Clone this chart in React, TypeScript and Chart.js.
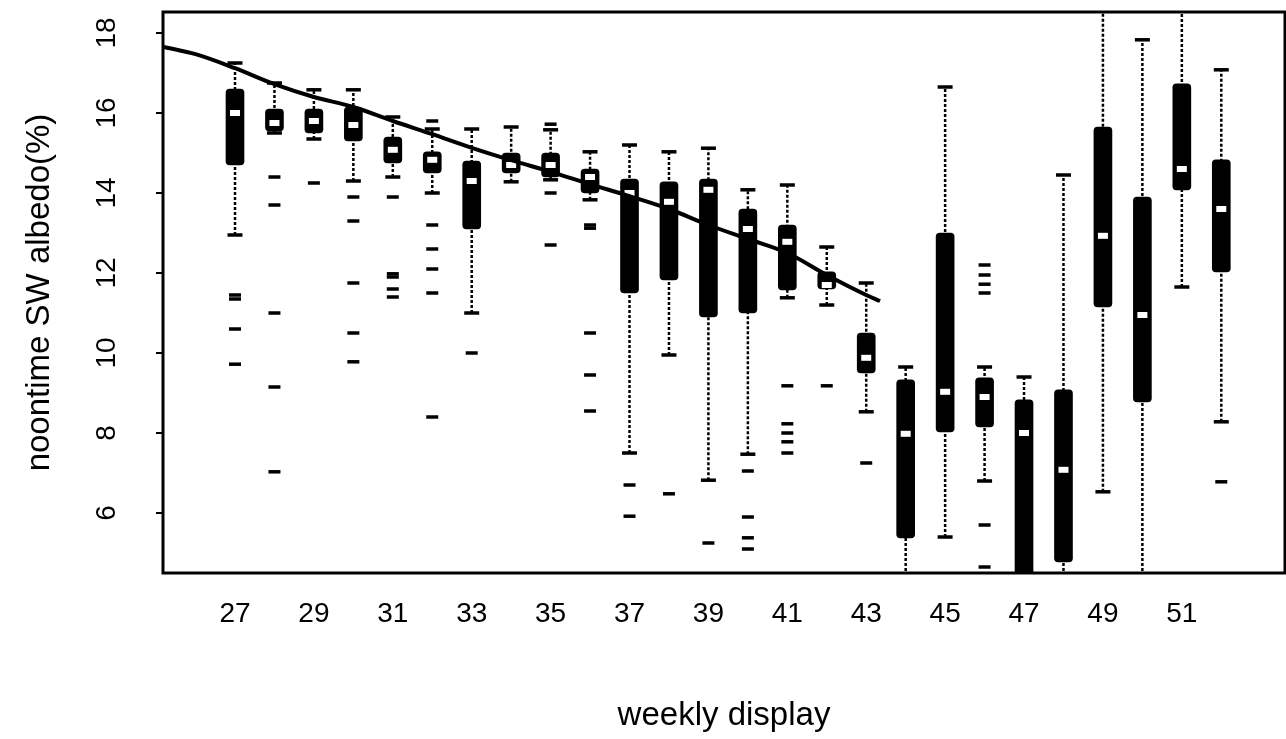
import React, { useEffect, useRef } from "react";
import { Chart, registerables } from "chart.js";

Chart.register(...registerables);

// ---- data ----
const weeks = [27, 28, 29, 30, 31, 32, 33, 34, 35, 36, 37, 38, 39, 40, 41, 42, 43, 44, 45, 46, 47, 48, 49, 50, 51, 52];
const whiskerLow = [12.95, 15.5, 15.35, 14.3, 14.4, 14.0, 11.0, 14.28, 14.33, 13.83, 7.5, 9.95, 6.82, 7.47, 11.38, 11.2, 8.53, 4.3, 5.4, 6.8, 4.2, 4.3, 6.53, 4.3, 11.65, 8.28];
const boxQ1 = [14.7, 15.55, 15.5, 15.3, 14.75, 14.5, 13.1, 14.5, 14.4, 14.0, 11.5, 11.83, 10.9, 11.0, 11.58, 11.6, 9.5, 5.38, 8.03, 8.15, 4.3, 4.78, 11.15, 8.78, 14.08, 12.03];
const boxMedian = [16.0, 15.75, 15.8, 15.7, 15.08, 14.83, 14.3, 14.7, 14.7, 14.4, 14.0, 13.78, 14.08, 13.1, 12.78, 11.7, 9.88, 7.98, 9.03, 8.9, 8.0, 7.08, 12.93, 10.95, 14.6, 13.6];
const boxQ3 = [16.6, 16.1, 16.1, 16.15, 15.4, 15.03, 14.8, 15.0, 15.0, 14.6, 14.35, 14.28, 14.35, 13.6, 13.2, 12.03, 10.5, 9.33, 13.0, 9.38, 8.83, 9.08, 15.65, 13.9, 16.73, 14.83];
const whiskerHigh = [17.25, 16.75, 16.58, 16.58, 15.9, 15.6, 15.6, 15.65, 15.58, 15.03, 15.2, 15.03, 15.12, 14.08, 14.2, 12.65, 11.75, 9.65, 16.65, 9.65, 9.4, 14.45, 19.0, 17.83, 19.0, 17.08];
const outliers = [
  [11.45, 11.35, 10.6, 9.72],
  [14.4, 13.7, 11.0, 9.15, 7.03],
  [14.25],
  [13.9, 13.3, 11.75, 10.5, 9.78],
  [13.9, 11.98, 11.9, 11.6, 11.4],
  [15.8, 13.2, 12.6, 12.1, 11.5, 8.4],
  [10.0],
  [],
  [15.72, 14.0, 12.7],
  [13.2, 13.12, 10.5, 9.45, 8.55],
  [6.7, 5.92],
  [6.48],
  [5.25],
  [7.05, 5.9, 5.38, 5.1],
  [9.18, 8.23, 8.0, 7.78, 7.5],
  [9.18],
  [7.25],
  [],
  [],
  [12.2, 11.95, 11.72, 11.5, 5.7, 4.65],
  [],
  [],
  [],
  [],
  [],
  [6.78],
];
const trendWeeks = [25.2, 26, 27, 28, 29, 30, 31, 32, 33, 34, 35, 36, 37, 38, 39, 40, 41, 42, 43, 43.35];
const trendValues = [17.65, 17.47, 17.12, 16.72, 16.4, 16.15, 15.8, 15.47, 15.13, 14.82, 14.53, 14.22, 13.92, 13.6, 13.2, 12.85, 12.5, 11.95, 11.45, 11.3];
const xTickValues = [27, 29, 31, 33, 35, 37, 39, 41, 43, 45, 47, 49, 51];
const yTickValues = [6, 8, 10, 12, 14, 16, 18];
const xTitle = "weekly display";
const yTitle = "noontime SW albedo(%)";

const FONT = "'Liberation Sans', Arial, Helvetica, sans-serif";

export default function App() {
  const ref = useRef<HTMLCanvasElement>(null);

  useEffect(() => {
    const canvas = ref.current;
    if (!canvas) return;

    const whiskerData: any[] = [];
    weeks.forEach((w, i) => {
      whiskerData.push({ x: w, y: whiskerLow[i] }, { x: w, y: whiskerHigh[i] }, { x: w, y: null });
    });
    const capData = weeks.flatMap((w, i) => [
      { x: w, y: whiskerLow[i] },
      { x: w, y: whiskerHigh[i] },
    ]);
    const outlierData = weeks.flatMap((w, i) => outliers[i].map((v) => ({ x: w, y: v })));
    const medianData = weeks.map((w, i) => ({ x: w, y: boxMedian[i] }));
    const boxData = weeks.map((w, i) => ({ x: w, y: [boxQ1[i], boxQ3[i]] }));
    const trendData = trendWeeks.map((w, i) => ({ x: w, y: trendValues[i] }));

    const framePlugin = {
      id: "frame",
      afterDatasetsDraw(chart: any) {
        const { ctx, chartArea } = chart;
        const { left, top, right, bottom } = chartArea;
        ctx.save();
        ctx.strokeStyle = "#000";
        ctx.lineWidth = 3;
        ctx.strokeRect(left, top, right - left, bottom - top);
        ctx.restore();
      },
    };

    const chart = new Chart(canvas, {
      type: "bar",
      data: {
        datasets: [
          {
            type: "line",
            label: "trend",
            data: trendData,
            borderColor: "#000",
            borderWidth: 4,
            pointRadius: 0,
            cubicInterpolationMode: "monotone",
            order: 0,
            clip: 0,
          } as any,
          {
            type: "scatter",
            label: "median",
            data: medianData,
            pointStyle: "line",
            pointRadius: 5,
            borderWidth: 6,
            borderColor: "#fff",
            backgroundColor: "#fff",
            order: 1,
            clip: 0,
          } as any,
          {
            type: "scatter",
            label: "outliers",
            data: outlierData,
            pointStyle: "line",
            pointRadius: 6,
            borderWidth: 3.5,
            borderColor: "#000",
            backgroundColor: "#000",
            order: 2,
            clip: 0,
          } as any,
          {
            type: "scatter",
            label: "caps",
            data: capData,
            pointStyle: "line",
            pointRadius: 7.5,
            borderWidth: 3.5,
            borderColor: "#000",
            backgroundColor: "#000",
            order: 2,
            clip: 0,
          } as any,
          {
            type: "bar",
            label: "box",
            data: boxData,
            backgroundColor: "#000",
            borderWidth: 0,
            barThickness: 18,
            borderRadius: 4,
            borderSkipped: false,
            order: 3,
            clip: 0,
          } as any,
          {
            type: "line",
            label: "whisker",
            data: whiskerData,
            borderColor: "#000",
            borderWidth: 2.5,
            borderDash: [3, 2],
            pointRadius: 0,
            spanGaps: false,
            tension: 0,
            order: 4,
            clip: 0,
          } as any,
        ],
      },
      options: {
        responsive: false,
        maintainAspectRatio: false,
        animation: false,
        events: [],
        layout: { autoPadding: false, padding: { top: 12, right: 1, bottom: 0, left: 0 } },
        plugins: {
          legend: { display: false },
          tooltip: { enabled: false },
        },
        scales: {
          x: {
            type: "linear",
            min: 25.175,
            max: 53.615,
            offset: false,
            grid: { display: false, drawTicks: false, offset: false },
            border: { display: false },
            ticks: {
              font: { family: FONT, size: 28 },
              color: "#000",
              padding: 24,
              maxRotation: 0,
              minRotation: 0,
              autoSkip: false,
            },
            afterBuildTicks: (s: any) => {
              s.ticks = xTickValues.map((v) => ({ value: v }));
            },
            afterFit: (s: any) => {
              s.height = 166;
              s.paddingLeft = 0;
              s.paddingRight = 0;
            },
            title: {
              display: true,
              text: xTitle,
              font: { family: FONT, size: 33 },
              color: "#000",
              padding: { top: 0, bottom: 3 },
            },
          },
          y: {
            type: "linear",
            min: 4.5,
            max: 18.525,
            grid: {
              drawOnChartArea: false,
              drawTicks: true,
              tickLength: 7,
              color: "#000",
              lineWidth: 2,
            },
            border: { display: false },
            ticks: {
              font: { family: FONT, size: 28 },
              color: "#000",
              padding: 33,
              minRotation: 90,
              maxRotation: 90,
              crossAlign: "center",
            },
            afterBuildTicks: (s: any) => {
              s.ticks = yTickValues.map((v) => ({ value: v }));
            },
            afterFit: (s: any) => {
              s.width = 163;
              s.paddingTop = 0;
              s.paddingBottom = 0;
            },
            title: {
              display: true,
              text: yTitle,
              font: { family: FONT, size: 33 },
              color: "#000",
              padding: { top: 20, bottom: 0 },
            },
          },
        },
      } as any,
      plugins: [framePlugin],
    });

    return () => chart.destroy();
  }, []);

  return (
    <div style={{ position: "fixed", left: 0, top: 0, width: 1286, height: 739, background: "#fff" }}>
      <canvas ref={ref} width={1286} height={739} style={{ display: "block" }} />
    </div>
  );
}
